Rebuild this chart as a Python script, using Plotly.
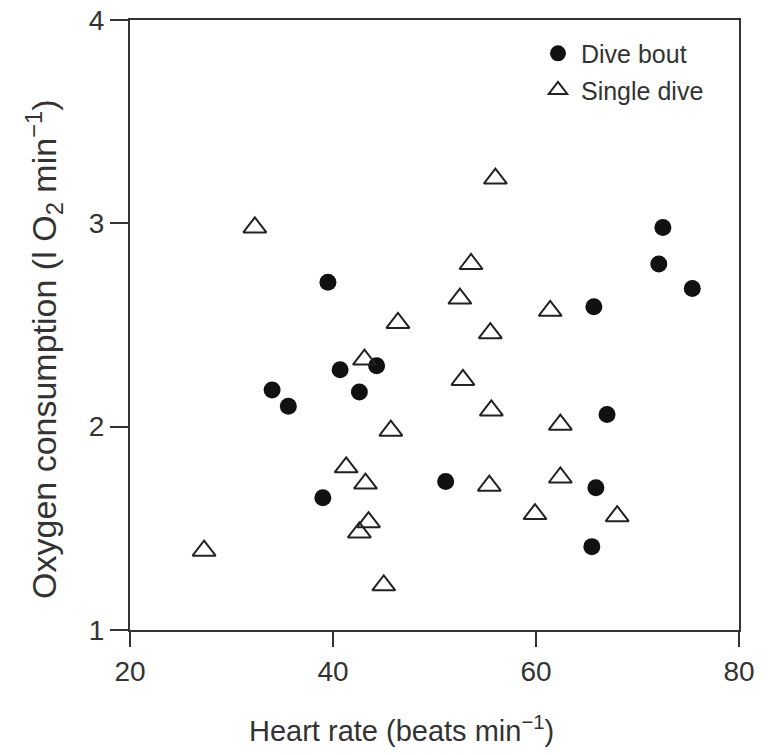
import plotly.graph_objects as go

# Dive bout (filled circles)
bout_hr = [39.5, 34.0, 35.6, 40.7, 44.3, 42.6, 39.0, 51.1, 65.7, 72.5, 72.1, 75.4, 67.0, 65.9, 65.5]
bout_vo2 = [2.71, 2.18, 2.10, 2.28, 2.30, 2.17, 1.65, 1.73, 2.59, 2.98, 2.80, 2.68, 2.06, 1.70, 1.41]

# Single dive (open triangles)
single_hr = [32.3, 46.4, 43.1, 45.7, 56.0, 53.6, 52.5, 61.4, 55.5, 52.8, 55.6, 62.4,
             41.3, 43.2, 43.5, 42.6, 27.3, 45.0, 55.4, 62.4, 59.9, 68.0]
single_vo2 = [2.98, 2.51, 2.33, 1.98, 3.22, 2.80, 2.63, 2.57, 2.46, 2.23, 2.08, 2.01,
              1.80, 1.72, 1.53, 1.48, 1.39, 1.22, 1.71, 1.75, 1.57, 1.56]

x_ticks = [20, 40, 60, 80]
y_ticks = [1, 2, 3, 4]

x_title = "Heart rate (beats min<sup>−1</sup>)"
y_title = "Oxygen consumption (l O<sub>2</sub> min<sup>−1</sup>)"

FONT = "Liberation Sans, Arial, sans-serif"
INK = "#333333"

fig = go.Figure()
fig.add_trace(go.Scatter(
    x=bout_hr, y=bout_vo2, mode="markers", name="Dive bout", legend="legend",
    marker=dict(symbol="circle", size=17, color="#111111", line=dict(width=0)),
))
fig.add_trace(go.Scatter(
    x=single_hr, y=single_vo2, mode="markers", name="Single dive", legend="legend2",
    marker=dict(symbol="triangle-up-open", size=20, color="#222222", line=dict(width=2)),
))

axis_common = dict(
    showline=True, linecolor=INK, linewidth=2, mirror=True,
    ticks="outside", tickwidth=2, tickcolor=INK,
    showgrid=False, zeroline=False, automargin=False,
    tickfont=dict(family=FONT, size=28, color=INK),
)

legend_common = dict(xanchor="left", yanchor="middle",
                     font=dict(family=FONT, size=25, color=INK),
                     bgcolor="rgba(0,0,0,0)", itemsizing="trace", itemwidth=36)

fig.update_layout(
    width=774, height=755,
    margin=dict(l=130, r=35, t=20, b=125, autoexpand=False),
    plot_bgcolor="white", paper_bgcolor="white",
    font=dict(family=FONT, color=INK),
    xaxis=dict(range=[20, 80], tickvals=x_ticks, ticklen=15, **axis_common),
    yaxis=dict(range=[1, 4], tickvals=y_ticks, ticklen=18, **axis_common),
    legend=dict(x=0.665, y=0.945, **legend_common),
    legend2=dict(x=0.665, y=0.885, **legend_common),
    showlegend=True,
)

# Axis titles (placed as in the reference, slightly off-centre)
fig.add_annotation(text=x_title, xref="paper", yref="paper", x=0.4466, y=0,
                   yshift=-99, xanchor="center", yanchor="middle", showarrow=False,
                   font=dict(family=FONT, size=29, color=INK))
fig.add_annotation(text=y_title, xref="paper", yref="paper", x=0, y=0.4607,
                   xshift=-86, xanchor="center", yanchor="middle", textangle=-90,
                   showarrow=False, font=dict(family=FONT, size=34, color=INK))

fig.write_html("out.html")
